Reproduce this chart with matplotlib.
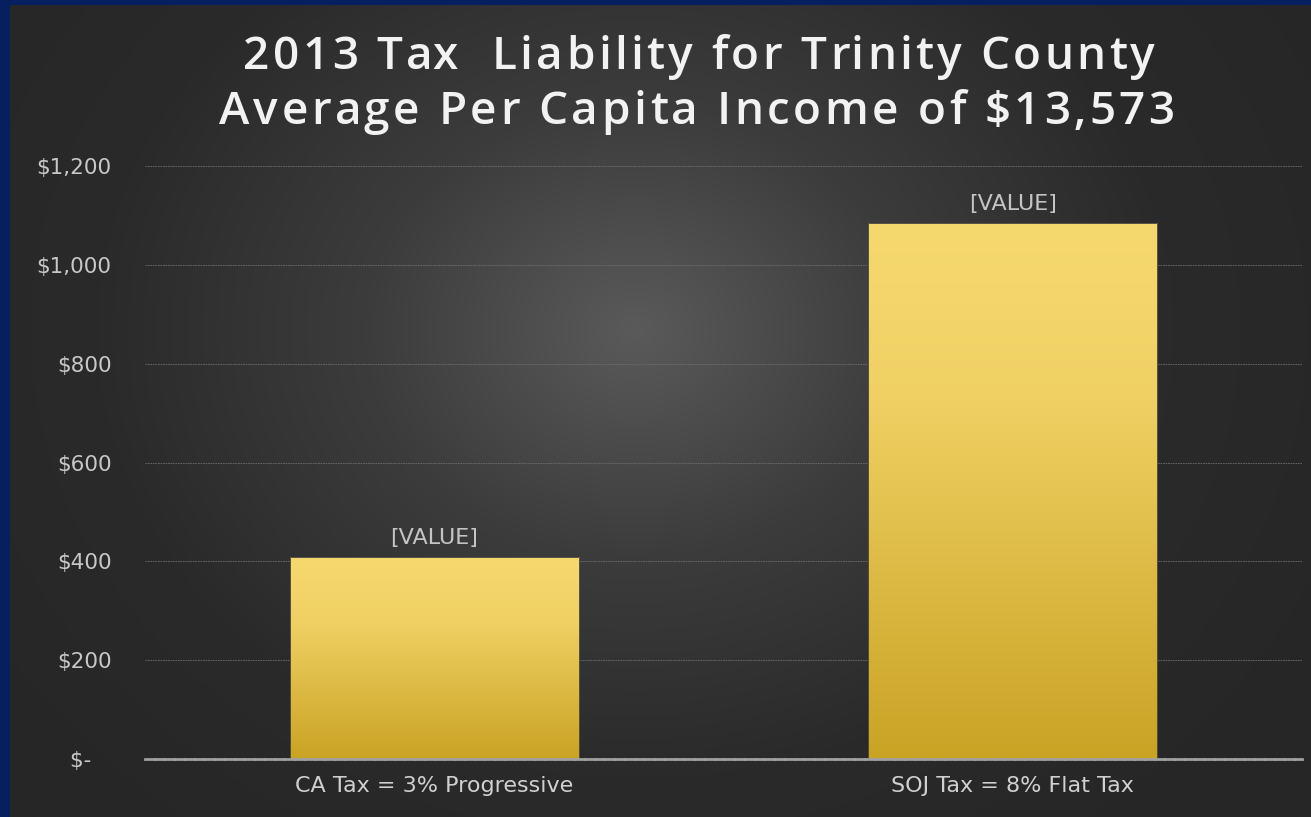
import numpy as np
import matplotlib
matplotlib.use("Agg")
import matplotlib.pyplot as plt
from matplotlib.colors import LinearSegmentedColormap
from matplotlib.ticker import FixedLocator

categories = ["CA Tax = 3% Progressive", "SOJ Tax = 8% Flat Tax"]
values = [409, 1085]
value_labels = ["[VALUE]", "[VALUE]"]
yticks = [0, 200, 400, 600, 800, 1000, 1200]
ytick_labels = [r"\$-   ", r"\$200", r"\$400", r"\$600", r"\$800", r"\$1,000", r"\$1,200"]
title_lines = ["2013 Tax  Liability for Trinity County", "Average Per Capita Income of \\$13,573"]

W, H = 1311, 817
fig = plt.figure(figsize=(W / 100, H / 100), dpi=100)
fig.patch.set_facecolor("#06205f")

# background radial gradient
bg = fig.add_axes([10 / W, 0, (W - 10) / W, (H - 5) / H])
bg.set_axis_off()
ny, nx = 400, 640
yy, xx = np.mgrid[0:ny, 0:nx]
cx, cy = nx * 0.48, ny * 0.40
r = np.sqrt(((xx - cx) / nx) ** 2 + ((yy - cy) / ny * 0.75) ** 2)
r = np.clip(r / 0.62, 0, 1)
bgcmap = LinearSegmentedColormap.from_list("bg", ["#5a5a5a", "#3c3c3c", "#2a2a2a", "#262626"])
bg.imshow(r, cmap=bgcmap, aspect="auto", extent=[0, 1, 0, 1], origin="upper")
bg.set_xlim(0, 1)
bg.set_ylim(0, 1)

ax = fig.add_axes([145 / W, 1 - 759 / H, (1302 - 145) / W, (759 - 166) / H])
ax.set_facecolor("none")
ax.set_xlim(-0.5, 1.5)
ax.set_ylim(0, 1200)

barcmap = LinearSegmentedColormap.from_list("gold", ["#c9a324", "#dcb943", "#f0d063", "#f6d96e"])
grad = np.linspace(0, 1, 256).reshape(-1, 1)
x = np.arange(len(categories))
bars = ax.bar(x, values, width=0.5, color="none", zorder=3)
for b in bars:
    x0, y0 = b.get_x(), b.get_y()
    w, h = b.get_width(), b.get_height()
    im = ax.imshow(grad, cmap=barcmap, aspect="auto", extent=[x0, x0 + w, y0, y0 + h],
                   origin="lower", zorder=3)
    im.set_clip_path(b)
    ax.add_patch(plt.Rectangle((x0, y0), w, h, fill=False, edgecolor="#3a3a3a", lw=0.6, zorder=4))

for xi, v, lab in zip(x, values, value_labels):
    ax.text(xi, v + 18, lab, ha="center", va="bottom", color="#c4c4c4", fontsize=16,
            family="DejaVu Sans", zorder=5)

ax.set_xticks(x)
ax.set_xticklabels(categories, color="#d0d0d0", fontsize=16, family="DejaVu Sans")
ax.yaxis.set_major_locator(FixedLocator(yticks))
ax.set_yticklabels(ytick_labels, color="#c8c8c8", fontsize=15.5, family="DejaVu Sans")
ax.tick_params(axis="y", length=0, pad=24)
ax.tick_params(axis="x", length=0, pad=12)
ax.grid(axis="y", color="#6e6e6e", linestyle=(0, (2, 1)), linewidth=0.6, zorder=1)
ax.set_axisbelow(True)
for s in ["top", "right", "left"]:
    ax.spines[s].set_visible(False)
ax.spines["bottom"].set_color("#a0a0a0")
ax.spines["bottom"].set_linewidth(2)
ax.spines["bottom"].set_linestyle((0, (3, 0.6)))
ax.spines["bottom"].set_zorder(6)

# letter-spaced title
renderer = fig.canvas.get_renderer()
tprops = dict(color="#f2f2f2", fontsize=33, fontweight="semibold", family="Open Sans")


def text_width(s):
    t = fig.text(0, 0, s + "|", **tprops)
    t2 = fig.text(0, 0, "|", **tprops)
    wv = t.get_window_extent(renderer).width - t2.get_window_extent(renderer).width
    t.remove()
    t2.remove()
    return wv


def tracked(line, center_px, y_px, target_w):
    chars = []
    i = 0
    while i < len(line):
        if line[i] == "\\":
            chars.append(line[i:i + 2])
            i += 2
        else:
            chars.append(line[i])
            i += 1
    natural = text_width(line)
    track = (target_w - natural) / (len(chars) - 1)
    start = center_px - target_w / 2
    prefix = ""
    for k, ch in enumerate(chars):
        xpos = start + text_width(prefix) + k * track
        if ch.strip():
            fig.text(xpos / W, 1 - y_px / H, ch, ha="left", va="baseline", **tprops)
        prefix += ch


tracked(title_lines[0], 699, 69, 912)
tracked(title_lines[1], 697, 124, 955)

fig.savefig("out.png", dpi=100, facecolor=fig.get_facecolor())
